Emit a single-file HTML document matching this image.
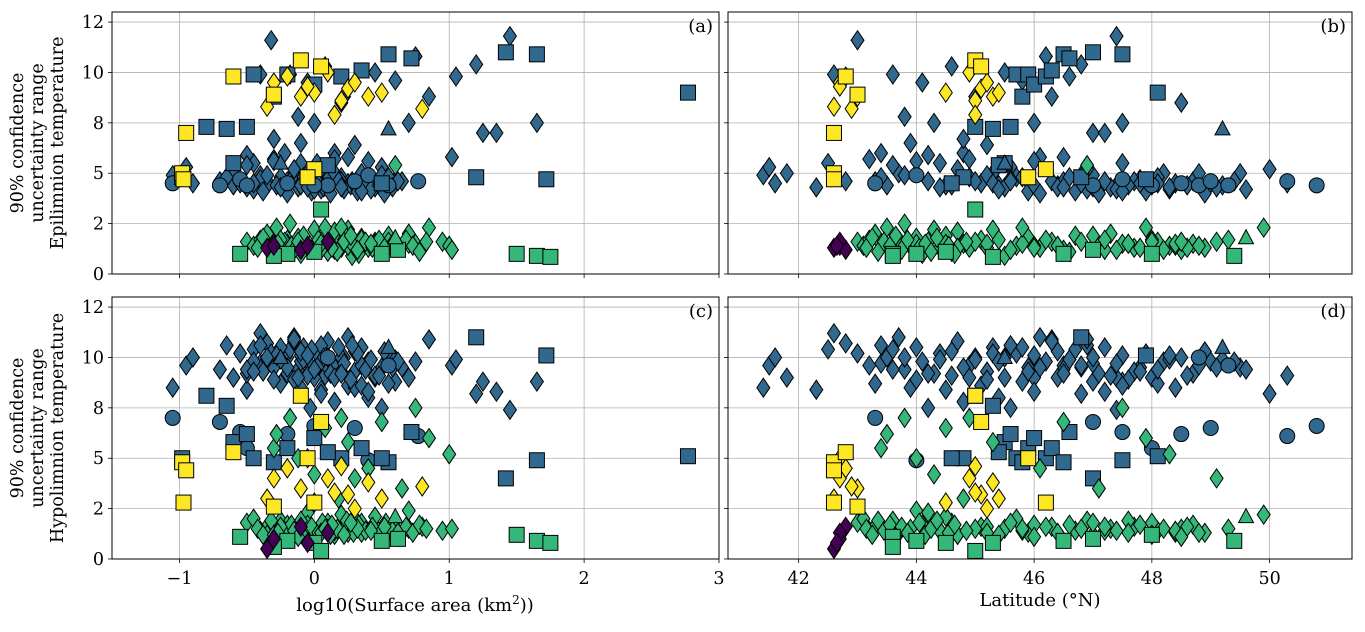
<!DOCTYPE html>
<html><head><meta charset="utf-8"><style>
html,body{margin:0;padding:0;background:#fff}
svg text{font-family:"DejaVu Serif","Liberation Serif",serif}
</style></head><body>
<svg id="fig" width="1365" height="627" viewBox="0 0 1365 627" xmlns="http://www.w3.org/2000/svg"></svg>
<script>
// Each lake: [log10 area, latitude, epilimnion range, hypolimnion range]
const blueDiamonds=[[-1.05,41.4,4.9,8.5],[-0.95,41.5,5.3,9.6],[-0.9,41.6,4.5,10.0],[-0.6,41.8,5.0,9.0],[-0.5,42.3,4.3,8.4],[-0.45,42.5,5.5,10.4],[-0.4,42.6,9.9,11.2],[-0.35,42.8,4.6,10.7],[-0.32,43.0,11.6,10.2],[-0.3,43.2,5.7,9.6],[-0.25,43.3,4.6,8.7],[-0.22,43.4,6.0,9.7],[-0.2,43.5,4.4,10.0],[-0.18,43.6,9.9,10.4],[-0.15,43.7,5.0,11.0],[-0.12,43.8,7.8,9.4],[-0.1,43.9,6.5,8.5],[-0.08,44.0,5.0,10.5],[-0.05,44.1,9.5,9.8],[-0.03,44.2,4.6,7.5],[0.0,44.3,7.5,9.2],[0.02,44.4,5.5,10.2],[0.05,44.5,4.4,8.4],[0.08,44.6,10.3,9.1],[0.1,44.7,5.2,10.8],[0.15,44.8,6.0,7.8],[0.2,44.9,4.8,9.6],[0.22,45.0,8.8,10.0],[0.25,45.1,4.5,8.6],[0.3,45.2,6.4,9.3],[0.35,45.3,5.0,10.5],[0.4,45.4,4.4,8.0],[0.45,45.5,10.0,9.0],[0.5,45.6,5.3,7.5],[0.55,45.7,4.8,10.2],[0.6,45.8,9.6,8.8],[0.65,45.9,4.6,9.5],[0.7,46.0,7.5,9.0],[0.75,46.2,10.8,9.8],[0.85,46.3,8.8,10.9],[1.02,46.5,5.8,9.6],[1.05,46.6,9.8,9.9],[1.2,46.8,10.4,8.2],[1.25,47.0,7.0,8.8],[1.35,47.2,7.0,8.3],[1.45,47.4,11.8,7.4],[1.65,47.5,7.5,8.8],[0.1,47.8,4.7,9.5],[0.0,48.0,4.4,9.0],[-0.1,48.2,5.0,9.8],[0.3,48.4,4.5,8.5],[0.2,48.5,8.5,10.0],[-0.2,48.7,4.6,9.2],[0.4,49.0,4.5,9.8],[0.15,49.5,5.0,9.5],[0.05,50.0,5.2,8.2],[-0.05,50.3,4.5,9.1],[-0.4,47.0,4.9,9.7],[-0.6,47.4,4.4,9.0],[0.6,45.0,4.6,9.9],[-0.25,45.8,4.8,10.5],[0.3,46.4,4.4,10.3],[0.5,46.8,4.9,9.5],[-0.1,47.5,5.5,10.1],[0.2,47.7,4.6,9.3],[0.35,48.8,5.0,9.6],[-0.3,44.8,6.7,9.5],[0.1,45.5,4.3,10.0],[0.45,47.3,4.3,9.1],[-0.5,44.2,5.9,9.2],[0.25,46.1,5.8,11.0],[-0.15,45.2,4.9,8.9],[-0.7,46.5,4.6,9.4],[0.05,46.9,4.2,10.6],[0.55,48.1,4.8,8.7],[-0.35,49.2,4.4,9.9]];
const blueDiamonds2=[[-0.55,45.3,4.5,10.2],[-0.45,45.4,4.2,9.8],[-0.4,45.6,4.7,10.6],[-0.38,45.9,4.1,9.3],[-0.28,46.0,4.4,10.1],[-0.2,46.1,4.0,9.5],[-0.15,46.3,4.6,10.8],[-0.12,46.4,4.3,9.0],[-0.08,46.6,4.8,9.9],[-0.02,46.7,4.1,10.4],[0.03,46.8,4.5,9.6],[0.07,47.0,4.3,10.0],[0.12,47.1,4.0,9.2],[0.18,47.2,4.6,10.5],[0.22,47.4,4.2,9.7],[0.27,47.6,4.4,8.9],[0.32,47.9,4.1,10.2],[0.38,48.1,4.5,9.4],[0.42,48.3,4.2,9.9],[0.48,48.6,4.4,9.1],[0.52,48.9,4.0,10.3],[0.58,49.1,4.3,9.5],[0.62,49.4,4.6,9.8],[-0.65,43.4,4.8,10.6],[-0.5,43.6,5.4,9.4],[-0.35,43.8,4.9,10.0],[-0.3,44.0,5.6,8.9],[-0.25,44.4,4.3,9.9],[-0.1,44.6,4.4,10.3],[0.15,44.9,5.7,9.0],[0.28,45.6,4.6,10.6],[-0.45,47.8,4.5,9.3],[0.35,47.5,4.1,8.6],[0.0,49.6,4.2,9.4],[-0.15,46.9,5.2,10.9],[0.2,46.5,4.3,9.2],[0.4,46.0,5.6,8.3],[-0.05,48.3,4.3,10.1]];
const greenDiamonds=[[-0.5,43.0,1.6,1.8],[-0.45,43.1,1.4,2.0],[-0.4,43.2,1.7,1.4],[-0.35,43.3,2.0,1.6],[-0.3,43.4,1.5,5.5],[-0.28,43.5,2.3,6.2],[-0.25,43.6,1.2,1.9],[-0.2,43.7,1.7,1.3],[-0.18,43.8,2.5,7.0],[-0.15,43.9,1.4,1.5],[-0.12,44.0,1.8,5.0],[-0.1,44.1,1.0,1.7],[-0.05,44.2,1.6,2.3],[0.0,44.3,2.2,4.2],[0.05,44.4,1.3,1.4],[0.08,44.5,1.9,6.5],[0.1,44.6,1.1,1.8],[0.15,44.7,2.1,1.2],[0.18,44.8,1.5,3.0],[0.2,44.9,1.3,7.0],[0.22,45.1,1.7,1.6],[0.25,45.3,2.2,5.8],[0.28,45.5,0.9,1.5],[0.3,45.7,1.4,2.0],[0.35,45.9,1.8,1.3],[0.4,46.1,1.3,4.5],[0.45,46.3,1.6,1.6],[0.5,46.5,1.2,6.8],[0.55,46.7,1.9,1.4],[0.6,46.9,5.4,1.9],[0.65,47.1,1.4,3.5],[0.7,47.3,2.0,1.5],[0.75,47.5,1.5,7.5],[0.8,47.7,1.3,1.6],[0.85,47.9,2.3,6.0],[0.95,48.1,1.6,1.4],[1.0,48.3,1.4,5.2],[1.02,48.5,1.2,1.5],[-0.2,48.7,1.5,1.7],[0.0,48.9,1.3,1.3],[0.3,49.1,1.6,4.0],[0.1,49.3,1.7,1.5],[0.2,49.9,2.3,2.2],[0.45,44.5,1.5,2.1],[-0.05,46.0,1.4,1.7],[0.15,47.2,1.2,1.4],[0.35,48.0,1.7,1.8],[-0.35,44.7,1.3,1.2],[0.55,45.0,1.6,1.5],[-0.1,47.6,1.5,1.9],[0.25,48.4,1.4,1.3],[0.7,44.0,1.5,2.4]];
const greenDiamonds2=[[-0.42,43.15,1.3,1.5],[-0.38,43.25,1.8,1.2],[-0.32,43.35,1.1,1.9],[-0.22,43.45,1.6,1.4],[-0.17,43.55,1.4,1.7],[-0.08,43.65,1.9,1.1],[-0.02,43.75,1.2,1.6],[0.03,43.85,1.7,1.3],[0.06,44.05,1.3,1.8],[0.12,44.15,1.5,1.2],[0.17,44.25,1.1,1.5],[0.24,44.35,1.8,1.9],[0.29,44.55,1.4,1.3],[0.33,44.65,1.0,1.7],[0.38,44.85,1.6,1.4],[0.43,45.2,1.3,1.6],[0.48,45.4,1.7,1.2],[0.53,45.6,1.2,1.8],[0.58,45.8,1.5,1.4],[0.63,46.0,1.3,1.1],[0.68,46.2,1.7,1.6],[0.73,46.4,1.4,1.3],[0.78,46.6,1.1,1.7],[0.83,46.8,1.6,1.5],[-0.3,47.0,1.3,1.2],[-0.25,47.2,1.7,1.6],[-0.15,47.4,1.2,1.4],[0.05,47.6,1.5,1.3],[0.13,47.8,1.3,1.7],[0.22,48.0,1.6,1.2],[0.32,48.2,1.2,1.5],[0.42,48.4,1.5,1.4],[0.52,48.6,1.3,1.6],[0.62,48.8,1.4,1.3],[-0.12,48.5,1.6,1.1],[0.27,47.0,1.9,1.8],[0.08,45.8,2.3,1.5],[-0.27,45.2,1.5,1.3]];
const blueSquares=[[-0.98,44.8,4.8,5.0],[-0.8,45.0,7.3,8.1],[-0.65,45.3,7.2,7.6],[-0.6,45.5,5.5,5.8],[-0.5,45.6,7.3,6.2],[-0.45,45.7,9.9,5.0],[-0.3,45.8,8.8,4.8],[-0.2,45.9,9.9,5.5],[0.0,46.0,9.4,6.0],[0.2,46.2,9.8,5.0],[0.35,46.3,10.1,5.5],[0.55,46.5,10.9,4.8],[0.72,46.6,10.7,6.3],[1.2,46.8,4.8,11.0],[1.42,47.0,11.0,4.0],[1.65,47.5,10.9,4.9],[1.72,47.9,4.7,10.1],[2.77,48.1,9.0,5.1],[0.1,45.4,5.4,5.3],[0.5,44.6,4.5,5.0]];
const blueCircles=[[-1.05,43.3,4.5,7.0],[-0.7,47.0,4.4,6.8],[-0.55,47.5,4.7,6.3],[-0.5,48.0,4.4,5.5],[-0.2,48.5,4.5,6.2],[0.1,48.8,4.4,10.0],[0.3,49.0,4.6,6.5],[0.55,49.3,4.4,9.6],[0.77,50.3,4.6,6.1],[0.0,50.8,4.4,6.6],[0.4,44.0,4.9,4.9]];
const greenSquares=[[-0.55,43.6,1.0,1.1],[-0.2,44.0,1.0,0.9],[0.0,44.5,1.1,0.8],[0.05,45.0,3.2,0.4],[0.5,46.5,1.0,0.9],[0.62,47.0,1.2,1.0],[1.5,48.0,1.0,1.2],[1.65,49.4,0.9,0.9],[1.75,45.3,0.85,0.8],[-0.3,43.6,0.9,0.6]];
const yellowDiamonds=[[-0.35,42.6,8.3,3.0],[-0.3,42.7,9.5,4.0],[-0.2,42.8,9.8,4.5],[-0.1,43.0,8.8,3.5],[0.0,44.5,9.0,2.8],[0.1,44.9,10.0,4.0],[0.2,45.0,8.6,4.6],[0.25,45.1,9.2,3.2],[0.3,45.2,9.5,2.5],[0.4,45.3,8.8,3.8],[0.5,45.4,9.0,3.0],[0.8,42.9,8.2,3.6],[-0.05,42.7,9.3,5.0],[0.15,45.0,7.9,3.3]];
const yellowSquares=[[-0.98,42.6,5.0,4.8],[-0.95,42.6,7.0,4.4],[-0.6,42.8,9.8,5.3],[-0.3,43.0,8.9,2.6],[-0.1,45.0,10.6,8.1],[0.05,45.1,10.3,6.8],[0.0,46.2,5.2,2.8],[-0.05,45.9,4.8,5.0],[-0.97,42.6,4.7,2.8]];
const purpleDiamonds=[[-0.35,42.6,1.3,0.5],[-0.3,42.7,1.4,1.0],[-0.1,42.8,1.2,1.6],[0.1,42.7,1.6,1.3],[-0.05,42.65,1.4,0.8]];
const blueTriangles=[[0.55,49.2,7.2,10.5],[-0.25,45.5,5.5,10.0]];
const greenTriangles=[[0.6,49.6,1.8,2.1]];
const xTicksArea=[-1,0,1,2,3];
const xTicksLat=[42,44,46,48,50];
const yTicks=[0,2.5,5,7.5,10,12.5];
const yTickLabels=["0","2","5","8","10","12"];

const NS="http://www.w3.org/2000/svg";
const svg=document.getElementById('fig');
function mk(tag,attrs,parent){const e=document.createElementNS(NS,tag);for(const k in attrs)e.setAttribute(k,attrs[k]);(parent||svg).appendChild(e);return e;}
const C={blue:"#31688e",green:"#35b779",yellow:"#fde725",purple:"#440154"};
const series=[[blueDiamonds,'d',C.blue],[blueDiamonds2,'d',C.blue],[blueCircles,'o',C.blue],[blueSquares,'s',C.blue],[blueTriangles,'t',C.blue],[greenDiamonds,'d',C.green],[greenDiamonds2,'d',C.green],[greenSquares,'s',C.green],[greenTriangles,'t',C.green],[yellowDiamonds,'d',C.yellow],[yellowSquares,'s',C.yellow],[purpleDiamonds,'d',C.purple]];
const panels=[
 {id:'a',x0:112,x1:719,y0:12,y1:274,xmin:-1.5,xmax:3,xi:0,yi:2,xt:xTicksArea,xl:false,yl:true},
 {id:'b',x0:728,x1:1352,y0:12,y1:274,xmin:40.8,xmax:51.4,xi:1,yi:2,xt:xTicksLat,xl:false,yl:false},
 {id:'c',x0:112,x1:719,y0:297,y1:559,xmin:-1.5,xmax:3,xi:0,yi:3,xt:xTicksArea,xl:true,yl:true},
 {id:'d',x0:728,x1:1352,y0:297,y1:559,xmin:40.8,xmax:51.4,xi:1,yi:3,xt:xTicksLat,xl:true,yl:false}];
const YMAX=13.0;
panels.forEach(p=>{
 const g=mk('g',{});
 
 
 const sx=v=>p.x0+(v-p.xmin)/(p.xmax-p.xmin)*(p.x1-p.x0);
 const sy=v=>p.y1-v/YMAX*(p.y1-p.y0);
 const cp=mk('clipPath',{id:'clip'+p.id},g);mk('rect',{x:p.x0,y:p.y0,width:p.x1-p.x0,height:p.y1-p.y0},cp);
 const grid=mk('g',{},g);
 
 
 p.xt.forEach(t=>{const X=sx(t);mk('line',{x1:X,x2:X,y1:p.y0,y2:p.y1,stroke:'#b0b0b0','stroke-width':0.8},grid);
  mk('line',{x1:X,x2:X,y1:p.y1,y2:p.y1+4,stroke:'#000','stroke-width':0.8},g);
  if(p.xl){const tx=mk('text',{x:X,y:p.y1+25,'font-size':17.5,'text-anchor':'middle'},g);tx.textContent=(t<0?'\u2212'+(-t):t);
   
   }});
 yTicks.forEach((t,i)=>{const Y=sy(t);mk('line',{x1:p.x0,x2:p.x1,y1:Y,y2:Y,stroke:'#b0b0b0','stroke-width':0.8},grid);
  mk('line',{x1:p.x0-4,x2:p.x0,y1:Y,y2:Y,stroke:'#000','stroke-width':0.8},g);
  if(p.yl){const tx=mk('text',{x:p.x0-8,y:Y+6,'font-size':17.5,'text-anchor':'end'},g);tx.textContent=yTickLabels[i];
   
   }});
 const pts=mk('g',{'clip-path':'url(#clip'+p.id+')'},g);
 
 
 series.forEach(([arr,m,col])=>{arr.forEach(r=>{const X=sx(r[p.xi]),Y=sy(r[p.yi]);let e;
  const st={fill:col,stroke:'#000','stroke-width':1};
  if(m==='d')e=mk('polygon',Object.assign({points:`${X},${Y-9.5} ${X+6.5},${Y} ${X},${Y+9.5} ${X-6.5},${Y}`},st),pts);
  else if(m==='s')e=mk('rect',Object.assign({x:X-7.5,y:Y-7.5,width:15,height:15},st),pts);
  else if(m==='o')e=mk('circle',Object.assign({cx:X,cy:Y,r:7.5},st),pts);
  else e=mk('polygon',Object.assign({points:`${X},${Y-8} ${X+7.5},${Y+6} ${X-7.5},${Y+6}`},st),pts);
  
  });});
 const fr=mk('rect',{x:p.x0,y:p.y0,width:p.x1-p.x0,height:p.y1-p.y0,fill:'none',stroke:'#000','stroke-width':1},g);
 
 
 const lb=mk('text',{x:p.x1-6,y:p.y0+20,'font-size':18,'text-anchor':'end','font-family':'Liberation Sans, sans-serif'},g);
 lb.textContent='('+p.id+')';
 
 
});
function ylab(cy,third,name){const t=mk('text',{transform:`translate(43,${cy}) rotate(-90)`,'font-size':17.5,'text-anchor':'middle'});
 
 
 ['90% confidence','uncertainty range',third].forEach((s,i)=>{const ts=mk('tspan',{x:0,dy:i===0?-20:20},t);ts.textContent=s;});}
ylab(143,'Epilimnion temperature','y-axis-title-epilimnion');
ylab(428,'Hypolimnion temperature','y-axis-title-hypolimnion');
const xa=mk('text',{x:415,y:611,'font-size':18,'text-anchor':'middle'});


xa.innerHTML='log10(Surface area (km<tspan dy="-7" font-size="12">2</tspan><tspan dy="7">))</tspan>';
const xb=mk('text',{x:1040,y:606,'font-size':18,'text-anchor':'middle'});


xb.textContent='Latitude (°N)';
</script>
</body></html>
